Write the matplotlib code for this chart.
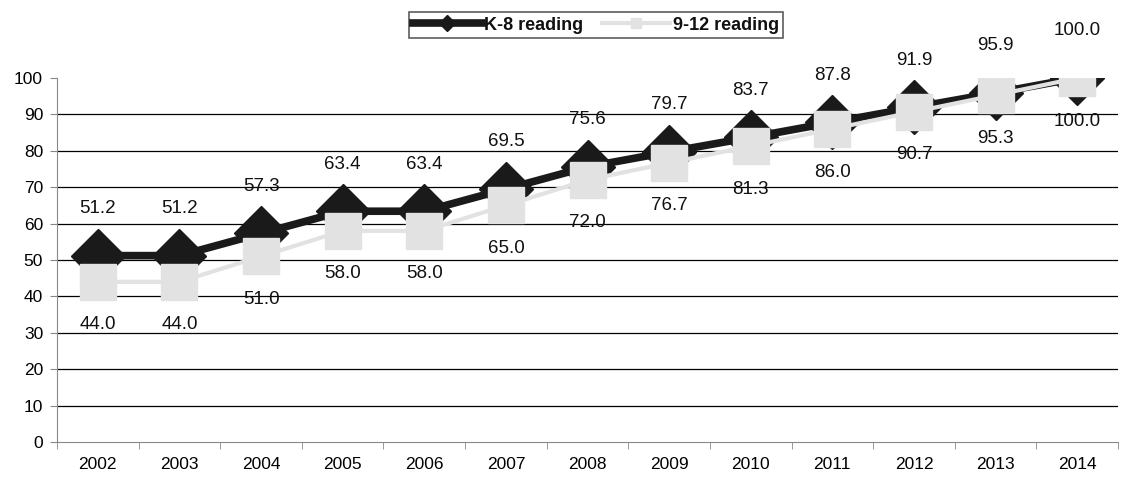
import matplotlib.pyplot as plt
import numpy as np

plt.rcParams['font.family'] = ['Liberation Sans', 'DejaVu Sans']

years = ['2002', '2003', '2004', '2005', '2006', '2007', '2008',
         '2009', '2010', '2011', '2012', '2013', '2014']
k8 = [51.2, 51.2, 57.3, 63.4, 63.4, 69.5, 75.6, 79.7, 83.7, 87.8, 91.9, 95.9, 100.0]
g912 = [44.0, 44.0, 51.0, 58.0, 58.0, 65.0, 72.0, 76.7, 81.3, 86.0, 90.7, 95.3, 100.0]

fig = plt.figure(figsize=(11.3, 4.84), dpi=100)
ax = fig.add_axes([57 / 1130, 42 / 484, 1061 / 1130, 364 / 484])

x = np.arange(len(years))

for v in range(10, 100, 10):
    ax.axhline(v, color='black', lw=0.9, zorder=1)

ax.plot(x, k8, color='#1a1a1a', lw=5.5, marker='D', markersize=27,
        label='K-8 reading', zorder=3)
ax.plot(x, g912, color='#e2e2e2', lw=3, marker='s', markersize=26,
        label='9-12 reading', zorder=4)

for xi, v in zip(x, k8):
    ax.annotate(f'{v:.1f}', (xi, v), xytext=(0, 34), textcoords='offset points',
                ha='center', va='center', fontsize=13.5, color='#111111', zorder=5)
for xi, v in zip(x, g912):
    ax.annotate(f'{v:.1f}', (xi, v), xytext=(0, -31), textcoords='offset points',
                ha='center', va='center', fontsize=13.5, color='#111111', zorder=5)

ax.set_xlim(-0.5, len(years) - 0.5)
ax.set_ylim(0, 100)
ax.set_yticks(range(0, 101, 10))
ax.set_xticks(x)
ax.set_xticklabels(years)
ax.set_xticks(np.arange(-0.5, len(years), 1), minor=True)
ax.tick_params(axis='x', which='major', length=0, pad=11, labelsize=12.5)
ax.tick_params(axis='x', which='minor', length=5, color='#888888')
ax.tick_params(axis='y', length=5, color='#888888', labelsize=12.5, pad=5)

for s in ['top', 'right']:
    ax.spines[s].set_visible(False)
ax.spines['left'].set_color('#888888')
ax.spines['bottom'].set_color('#888888')

leg = fig.legend(handles=ax.get_lines()[-2:], loc='upper center',
                 bbox_to_anchor=(596 / 1130, 1 - 3 / 484), ncol=2,
                 frameon=True, fancybox=False, edgecolor='#333333',
                 fontsize=13, markerscale=0.3, handlelength=3.8,
                 columnspacing=1.0, borderpad=0.25, handletextpad=0.15)
leg.get_frame().set_linewidth(1.2)
for t in leg.get_texts():
    t.set_fontweight('bold')
    t.set_color('#111111')

fig.savefig('out.png', dpi=100)
